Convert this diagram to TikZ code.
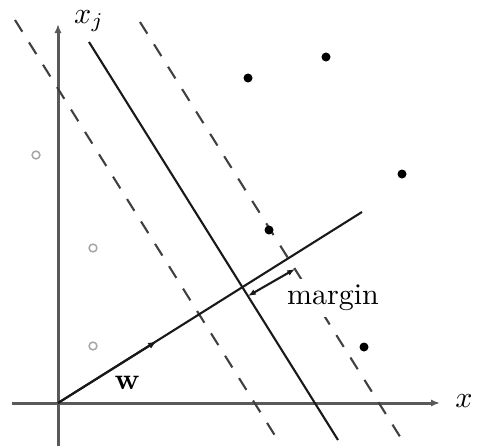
\documentclass[tikz,border=0pt]{standalone}
\usetikzlibrary{arrows.meta}
\begin{document}
\begin{tikzpicture}[x=0.3333pt,y=-0.3333pt,
  axis/.style={line width=1pt,draw=black!65,-{Latex[length=3pt,width=2.4pt]}},
  plane/.style={line width=0.7pt,draw=black!90},
  marginline/.style={line width=0.7pt,draw=black!75,dash pattern=on 4.6pt off 4.2pt},
  posdot/.style={circle,fill=black,inner sep=0pt,minimum size=3pt},
  negdot/.style={circle,draw=black!35,line width=0.5pt,inner sep=0pt,minimum size=2.6pt},
  lbl/.style={inner sep=1pt,font=\fontsize{10}{12}\selectfont}]
\useasboundingbox (0,0) rectangle (477,448);
% axes
\coordinate (O) at (58,403);
\coordinate (xa0) at (12,403);
\coordinate (xa1) at (440,403);
\coordinate (ya0) at (58,446);
\coordinate (ya1) at (58,24);
\draw[axis] (xa0) -- (xa1);
\draw[axis] (ya0) -- (ya1);
\node[lbl,anchor=east] (xlab) at (476,401) {$x$};
\node[lbl] (ylab) at (89,21) {$x_j$};
% hyperplanes
\coordinate (h0) at (89,42);
\coordinate (h1) at (338,440);
\coordinate (l0) at (15,20);
\coordinate (l1) at (279,442);
\coordinate (r0) at (140,22);
\coordinate (r1) at (404,443);
\draw[plane] (h0) -- (h1);
\draw[marginline] (l0) -- (l1);
\draw[marginline] (r0) -- (r1);
% w line and vector
\coordinate (wend) at (362,212);
\coordinate (wtip) at (157,341);
\draw[plane] (O) -- (wend);
\draw[plane,-{Latex[length=3pt,width=2.2pt]}] (O) -- (wtip);
\node[lbl,font=\fontsize{10}{12}\selectfont\bfseries] (wlab) at (127,383) {w};
% margin
\node[lbl,fill=white,inner sep=2pt] (mlab) at (333,298) {margin};
\coordinate (m0) at (248,296);
\coordinate (m1) at (295,269);
\draw[plane,{Latex[length=2.6pt,width=2pt]}-{Latex[length=2.6pt,width=2pt]}] (m0) -- (m1);
% data points
\node[posdot] (p1) at (248,78) {};
\node[posdot] (p2) at (326,57) {};
\node[posdot] (p3) at (402,174) {};
\node[posdot] (p4) at (269,230) {};
\node[posdot] (p5) at (364,347) {};
\node[negdot] (n1) at (36,155) {};
\node[negdot] (n2) at (93,248) {};
\node[negdot] (n3) at (93,346) {};
\end{tikzpicture}
\end{document}
